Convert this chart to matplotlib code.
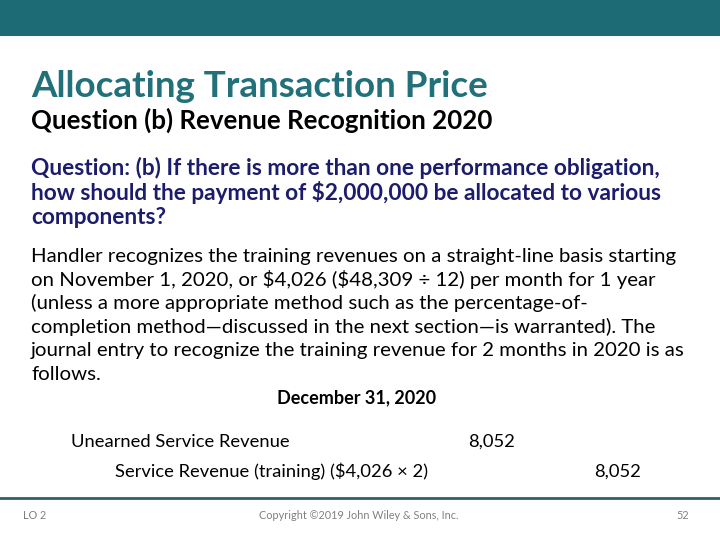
import matplotlib
matplotlib.use("Agg")
import matplotlib.pyplot as plt
from matplotlib.patches import Rectangle
from matplotlib.lines import Line2D

plt.rcParams["text.parse_math"] = False

W, H = 720, 540
FONT = "Lato"

title = "Allocating Transaction Price"
subtitle = "Question (b) Revenue Recognition 2020"
question_lines = [
    "Question: (b) If there is more than one performance obligation,",
    "how should the payment of $2,000,000 be allocated to various",
    "components?",
]
body_lines = [
    "Handler recognizes the training revenues on a straight-line basis starting",
    "on November 1, 2020, or $4,026 ($48,309 \u00f7 12) per month for 1 year",
    "(unless a more appropriate method such as the percentage-of-",
    "completion method\u2014discussed in the next section\u2014is warranted). The",
    "journal entry to recognize the training revenue for 2 months in 2020 is as",
    "follows.",
]
entry_date = "December 31, 2020"
debit_account = "Unearned Service Revenue"
credit_account = "Service Revenue (training) ($4,026 \u00d7 2)"
debit_amount = "8,052"
credit_amount = "8,052"
footer_left = "LO 2"
footer_mid = "Copyright \u00a92019 John Wiley & Sons, Inc."
footer_right = "52"

fig = plt.figure(figsize=(W / 100, H / 100), dpi=100)
fig.patch.set_facecolor("white")
renderer = fig.canvas.get_renderer()


def fy(py):
    return 1 - py / H


def fit_size(text, width_px, weight="normal"):
    t = fig.text(0, 0, text, fontsize=10, family=FONT, weight=weight)
    w = t.get_window_extent(renderer).width
    t.remove()
    return 10 * width_px / w


def put(x, y, text, size, color="black", weight="normal", ha="left"):
    fig.text(x / W, fy(y), text, fontsize=size, family=FONT, weight=weight,
             color=color, ha=ha, va="baseline")


# top band and footer rule
fig.add_artist(Rectangle((0, fy(36)), 1, 36 / H, transform=fig.transFigure,
                         facecolor="#1d6b74", edgecolor="none"))
fig.add_artist(Line2D([0, 1], [fy(497.5), fy(497.5)], transform=fig.transFigure,
                      color="#2f6166", linewidth=2))

# headings
put(31, 97, title, fit_size(title, 459, "bold"), "#21707a", "bold")
put(31, 129, subtitle, fit_size(subtitle, 460, "bold"), "black", "bold")

# question block
qs = fit_size(question_lines[0], 631, "bold")
for i, line in enumerate(question_lines):
    put(31, 175 + i * 24.7, line, qs, "#1c1c6c", "bold")

# body block
bs = fit_size(body_lines[0], 646)
for i, line in enumerate(body_lines):
    put(31, 262 + i * 23.6, line, bs)

# journal entry
put(357, 403, entry_date, fit_size(entry_date, 160, "bold"), "black", "bold", "center")
es = fit_size(debit_account, 218)
put(71, 447, debit_account, es)
put(115, 477, credit_account, es)
put(515, 447, debit_amount, es, ha="right")
put(641, 477, credit_amount, es, ha="right")

# footer
fs = fit_size(footer_mid, 199)
put(23, 519, footer_left, fs, "#808080")
put(359, 519, footer_mid, fs, "#808080", ha="center")
put(689, 519, footer_right, fs, "#808080", ha="right")

fig.savefig("out.png", dpi=100)
